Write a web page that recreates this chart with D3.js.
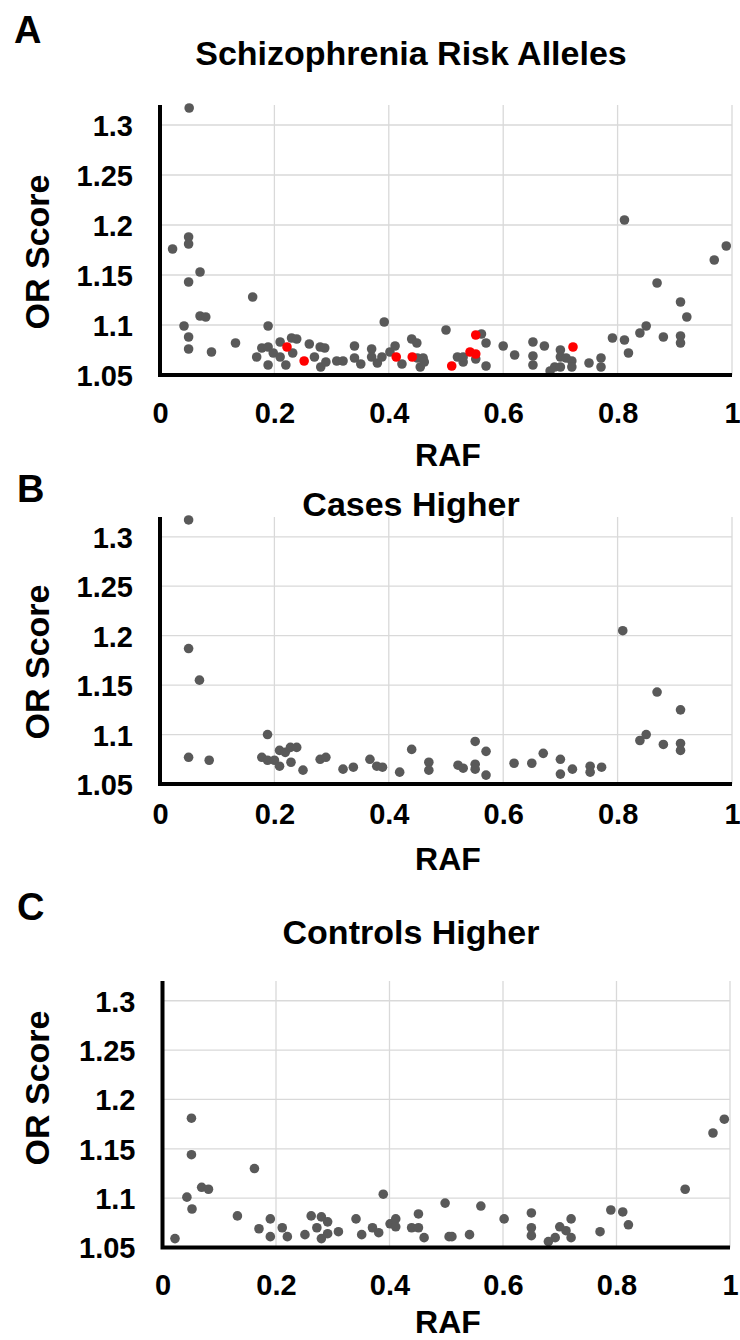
<!DOCTYPE html>
<html>
<head>
<meta charset="utf-8">
<script src="https://cdn.jsdelivr.net/npm/d3@7"></script>
<style>
  html, body { margin: 0; padding: 0; background: #fff; }
  svg { display: block; font-family: "Liberation Sans", Arial, sans-serif; font-weight: bold; }
</style>
</head>
<body>
<svg id="chart" width="740" height="1340"></svg>
<script>
// ticks shared by all three panels
const rafTicks = [0, 0.2, 0.4, 0.6, 0.8, 1];
const orTicks = [1.05, 1.1, 1.15, 1.2, 1.25, 1.3];

// panel A: all risk alleles, [RAF, OR]
const riskAlleles = [
  [0.051, 1.317], [0.022, 1.176], [0.05, 1.188], [0.05, 1.181], [0.07, 1.153],
  [0.05, 1.143], [0.162, 1.128], [0.07, 1.109], [0.08, 1.108], [0.042, 1.099],
  [0.05, 1.088], [0.05, 1.076], [0.09, 1.073], [0.132, 1.082], [0.189, 1.099],
  [0.169, 1.068], [0.178, 1.077], [0.189, 1.078], [0.189, 1.06], [0.198, 1.072],
  [0.21, 1.083], [0.21, 1.068], [0.22, 1.06], [0.23, 1.087], [0.239, 1.086],
  [0.232, 1.072], [0.261, 1.081], [0.27, 1.068], [0.28, 1.078], [0.288, 1.077],
  [0.281, 1.058], [0.29, 1.063], [0.309, 1.064], [0.32, 1.064], [0.34, 1.079],
  [0.34, 1.067], [0.351, 1.061], [0.37, 1.076], [0.37, 1.068], [0.38, 1.062],
  [0.388, 1.068], [0.392, 1.103], [0.402, 1.073], [0.411, 1.079], [0.423, 1.061],
  [0.44, 1.086], [0.449, 1.082], [0.45, 1.067], [0.46, 1.067], [0.455, 1.058],
  [0.462, 1.063], [0.5, 1.095], [0.52, 1.068], [0.53, 1.063], [0.53, 1.068],
  [0.562, 1.091], [0.552, 1.066], [0.57, 1.082], [0.57, 1.059], [0.6, 1.079],
  [0.62, 1.07], [0.652, 1.083], [0.652, 1.069], [0.652, 1.06], [0.672, 1.079],
  [0.682, 1.054], [0.69, 1.058], [0.7, 1.058], [0.7, 1.075], [0.7, 1.068],
  [0.71, 1.067], [0.72, 1.064], [0.72, 1.058], [0.75, 1.062], [0.771, 1.067],
  [0.771, 1.058], [0.791, 1.087], [0.812, 1.085], [0.812, 1.205], [0.819, 1.072],
  [0.839, 1.092], [0.85, 1.099], [0.869, 1.142], [0.88, 1.088], [0.91, 1.123],
  [0.921, 1.108], [0.91, 1.089], [0.91, 1.082], [0.969, 1.165], [0.99, 1.179]
];
// highlighted (red) alleles in panel A
const riskHighlighted = [
  [0.222, 1.078], [0.252, 1.064], [0.413, 1.068], [0.441, 1.068], [0.51, 1.059],
  [0.542, 1.073], [0.552, 1.071], [0.552, 1.09], [0.722, 1.078]
];
// panel B
const casesHigher = [
  [0.05, 1.317], [0.05, 1.187], [0.069, 1.155], [0.05, 1.077], [0.086, 1.074],
  [0.188, 1.1], [0.178, 1.077], [0.188, 1.074], [0.2, 1.074], [0.209, 1.084],
  [0.219, 1.082], [0.228, 1.087], [0.239, 1.087], [0.209, 1.068], [0.229, 1.072],
  [0.25, 1.064], [0.28, 1.075], [0.29, 1.077], [0.32, 1.065], [0.338, 1.067],
  [0.367, 1.075], [0.379, 1.068], [0.389, 1.067], [0.419, 1.062], [0.44, 1.085],
  [0.47, 1.072], [0.47, 1.064], [0.521, 1.069], [0.53, 1.066], [0.551, 1.093],
  [0.551, 1.07], [0.551, 1.065], [0.57, 1.083], [0.57, 1.059], [0.619, 1.071],
  [0.65, 1.071], [0.67, 1.081], [0.7, 1.075], [0.7, 1.06], [0.721, 1.065],
  [0.752, 1.068], [0.752, 1.062], [0.772, 1.067], [0.809, 1.205], [0.869, 1.143],
  [0.839, 1.094], [0.85, 1.1], [0.88, 1.09], [0.91, 1.125], [0.91, 1.091],
  [0.91, 1.084]
];
// panel C
const controlsHigher = [
  [0.051, 1.181], [0.051, 1.144], [0.162, 1.13], [0.069, 1.111], [0.081, 1.109],
  [0.043, 1.101], [0.052, 1.089], [0.389, 1.104], [0.498, 1.095], [0.022, 1.059],
  [0.132, 1.082], [0.17, 1.069], [0.19, 1.079], [0.19, 1.061], [0.211, 1.07],
  [0.22, 1.061], [0.251, 1.063], [0.262, 1.082], [0.272, 1.07], [0.28, 1.081],
  [0.291, 1.076], [0.28, 1.059], [0.291, 1.064], [0.31, 1.066], [0.341, 1.079],
  [0.351, 1.063], [0.37, 1.07], [0.381, 1.065], [0.401, 1.074], [0.411, 1.079],
  [0.411, 1.071], [0.439, 1.07], [0.451, 1.07], [0.451, 1.084], [0.461, 1.06],
  [0.505, 1.061], [0.51, 1.061], [0.541, 1.063], [0.561, 1.092], [0.602, 1.079],
  [0.65, 1.085], [0.65, 1.07], [0.65, 1.062], [0.68, 1.056], [0.692, 1.06],
  [0.7, 1.071], [0.711, 1.067], [0.72, 1.06], [0.72, 1.079], [0.771, 1.066],
  [0.79, 1.088], [0.811, 1.086], [0.821, 1.073], [0.921, 1.109], [0.97, 1.166],
  [0.99, 1.18]
];

const svg = d3.select('#chart');
const grey = '#595959';

function drawPanel(p) {
  const x = d3.scaleLinear().domain([0, 1]).range([p.left, p.right]);
  const y = d3.scaleLinear().domain([1.05, 1.32]).range([p.bottom, p.top]);
  const g = svg.append('g');

  // gridlines
  g.selectAll('line.vgrid')
    .data(rafTicks.slice(1))
    .enter().append('line')
    .attr('x1', d => x(d)).attr('x2', d => x(d))
    .attr('y1', p.top).attr('y2', p.bottom)
    .attr('stroke', '#d9d9d9').attr('stroke-width', 1.3);
  g.selectAll('line.hgrid')
    .data(orTicks.slice(1))
    .enter().append('line')
    .attr('x1', p.left).attr('x2', p.right)
    .attr('y1', d => y(d)).attr('y2', d => y(d))
    .attr('stroke', '#d9d9d9').attr('stroke-width', 1.3);

  // tick labels through the axes
  const yAxis = g.append('g')
    .attr('transform', 'translate(' + p.left + ',0)')
    .call(d3.axisLeft(y).tickValues(orTicks).tickFormat(d3.format('.2~f')).tickSize(0).tickPadding(27));
  const xAxis = g.append('g')
    .attr('transform', 'translate(0,' + p.bottom + ')')
    .call(d3.axisBottom(x).tickValues(rafTicks).tickFormat(d3.format('~g')).tickSize(0).tickPadding(p.xPad));
  [yAxis, xAxis].forEach(a => {
    a.select('.domain').remove();
    a.selectAll('text')
      .attr('fill', '#000')
      .style('font-size', '29px')
      .style('font-family', '"Liberation Sans", Arial, sans-serif')
      .style('font-weight', 'bold');
  });
  yAxis.selectAll('text').attr('dy', '0.36em');

  // dots
  g.selectAll('circle.pt')
    .data(p.points)
    .enter().append('circle')
    .attr('cx', d => x(d[0]))
    .attr('cy', d => y(d[1]))
    .attr('r', 4.8)
    .attr('fill', grey);
  if (p.red) {
    g.selectAll('circle.red')
      .data(p.red)
      .enter().append('circle')
      .attr('cx', d => x(d[0]))
      .attr('cy', d => y(d[1]))
      .attr('r', 4.8)
      .attr('fill', '#ff0000');
  }

  // axis lines
  g.append('path')
    .attr('d', 'M' + p.left + ',' + p.top + 'V' + p.bottom + 'H' + p.right)
    .attr('fill', 'none').attr('stroke', '#000').attr('stroke-width', 4);

  // texts
  g.append('text').attr('x', p.letterX).attr('y', p.letterY)
    .style('font-size', '38px').text(p.letter);
  g.append('text').attr('x', 411).attr('y', p.titleY)
    .attr('text-anchor', 'middle').style('font-size', '34px').text(p.title);
  g.append('text').attr('x', 448).attr('y', p.rafY)
    .attr('text-anchor', 'middle').style('font-size', '32px').text('RAF');
  g.append('text')
    .attr('transform', 'translate(49,' + p.labelY + ') rotate(-90)')
    .attr('text-anchor', 'middle').style('font-size', '34px').text('OR Score');
}

drawPanel({
  letter: 'A', letterX: 14, letterY: 43, title: 'Schizophrenia Risk Alleles', titleY: 65,
  left: 160, right: 732, top: 105, bottom: 375, xPad: 27, rafY: 466, labelY: 252,
  points: riskAlleles, red: riskHighlighted
});
drawPanel({
  letter: 'B', letterX: 17, letterY: 502, title: 'Cases Higher', titleY: 516,
  left: 160, right: 732, top: 517, bottom: 784, xPad: 19, rafY: 870, labelY: 662,
  points: casesHigher
});
drawPanel({
  letter: 'C', letterX: 17, letterY: 920, title: 'Controls Higher', titleY: 944,
  left: 162.5, right: 730, top: 981, bottom: 1247.5, xPad: 27, rafY: 1333, labelY: 1088,
  points: controlsHigher
});
</script>
</body>
</html>
